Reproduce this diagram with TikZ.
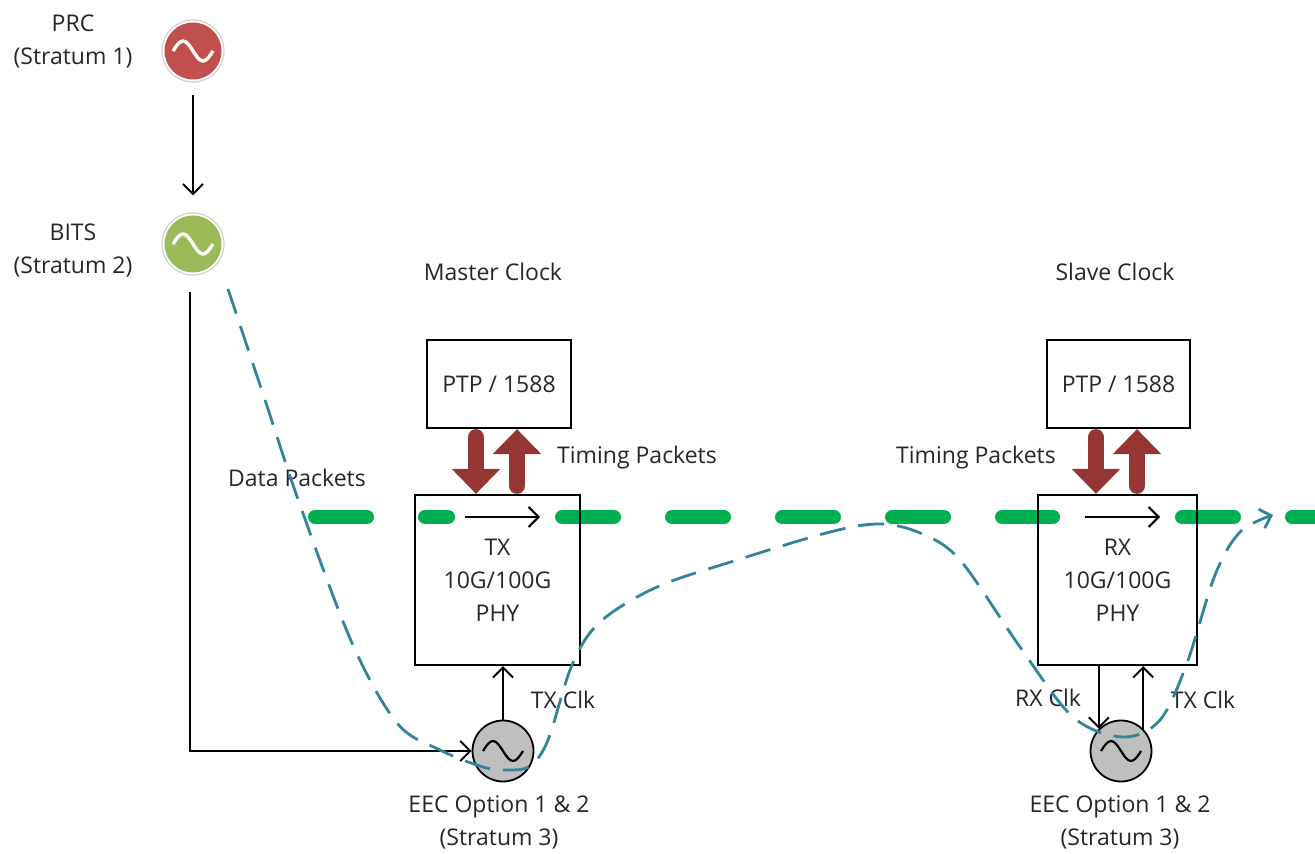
\documentclass[tikz,border=0pt]{standalone}
\usepackage{fontspec}
\setmainfont{Open Sans}
\usetikzlibrary{arrows.meta}
\usetikzlibrary{positioning}
\definecolor{prcred}{RGB}{192,80,77}
\definecolor{bitsgreen}{RGB}{155,187,89}
\definecolor{eecgray}{RGB}{191,191,191}
\definecolor{tpkbrown}{RGB}{150,54,52}
\definecolor{datagreen}{RGB}{0,176,80}
\definecolor{pathteal}{RGB}{49,133,155}
\tikzset{osc/.style = {circle, inner sep = 0, minimum size = 28.5pt}}
\tikzset{ring/.style = {circle, draw = black!18, line width = 0.6pt, inner sep = 0, minimum size = 31pt}}
\tikzset{eec/.style = {circle, draw, fill = eecgray, line width = 0.9pt, inner sep = 0, minimum size = 30.5pt}}
\tikzset{box/.style = {draw, line width = 1.1pt, inner sep = 0, align = center,
                       font = \fontsize{11.5}{16.5}\selectfont, text = black!85}}
\tikzset{lbl/.style = {align = center, font = \fontsize{11.5}{16.5}\selectfont, text = black!85}}
\tikzset{blk/.style = {line width = 1pt, -{Straight Barb[length = 5pt, width = 10pt]}}}
\tikzset{tpk/.style = {tpkbrown, line width = 8pt, line cap = round, shorten < = 4pt,
                       -{Triangle[width = 23.5pt, length = 12.5pt]}}}
\tikzset{datapkt/.style = {datagreen, line width = 7pt, line cap = round,
                           dash pattern = on 26pt off 29pt}}
\tikzset{wave/.pic = {\draw (-20, 0) sin (-10, -10) cos (0, 0) sin (10, 10) cos (20, 0);}}

\begin{document}
\begin{tikzpicture}[x = 0.5pt, y = -0.5pt]
  \useasboundingbox (0, 0) rectangle (1315, 854);

  % reference clocks
  \node [ring] (prcring) at (193, 51) {};
  \node [osc, fill = prcred] (prc) at (193, 51) {};
  \pic [white, line width = 1.7pt] at (prc.center) {wave};
  \node [lbl] (prclbl) at (73, 42) {PRC\\(Stratum 1)};

  \node [ring] (bitsring) at (193, 244) {};
  \node [osc, fill = bitsgreen] (bits) at (193, 244) {};
  \pic [white, line width = 1.7pt] at (bits.center) {wave};
  \node [lbl] (bitslbl) at (73, 250) {BITS\\(Stratum 2)};

  \draw [blk, shorten < = 6pt, shorten > = 8.5pt] (prcring) -- (bitsring);

  % data packets
  \draw [datapkt] (315, 517) -- (448, 517);
  \draw [datapkt] (562, 517) -- (1053, 517);
  \draw [datapkt] (1182, 517) -- (1330, 517);
  \node [lbl] (datalbl) at (297, 478) {Data Packets};

  % master clock
  \node [lbl] (mlbl) at (493, 272) {Master Clock};
  \node [box, minimum width = 72pt, minimum height = 44pt] (mptp) at (499, 384) {PTP / 1588};
  \node [box, minimum width = 82.5pt, minimum height = 85pt] (mphy) at (497.5, 580) {TX\\10G/100G\\PHY};
  \draw [tpk] ([xshift = -11.5pt]mptp.south) -- ([xshift = -11.5pt]mptp.south |- mphy.north);
  \draw [tpk] ([xshift = 9pt]mptp.south |- mphy.north) -- ([xshift = 9pt]mptp.south);
  \node [lbl] (mtpklbl) at (637, 458) {Timing Packets};
  \coordinate (mdin) at (465, 517);
  \coordinate (mdout) at (540, 517);
  \draw [blk] (mdin) -- (mdout);

  \node [eec] (meec) at (503, 751) {};
  \pic [black, line width = 1.1pt] at (meec.center) {wave};
  \node [lbl] (meeclbl) at (499, 822) {EEC Option 1 \& 2\\(Stratum 3)};
  \draw [blk] (meec.north) -- (meec.north |- mphy.south);
  \node [lbl] (mtxclk) at (563, 700) {TX Clk};

  \coordinate (bitsout) at (190, 292);
  \draw [blk] (bitsout) |- (meec.west);

  % slave clock
  \node [lbl] (slbl) at (1115, 272) {Slave Clock};
  \node [box, minimum width = 71.5pt, minimum height = 44pt] (sptp) at (1118.5, 384) {PTP / 1588};
  \node [box, minimum width = 79.5pt, minimum height = 85pt] (sphy) at (1117.5, 580) {RX\\10G/100G\\PHY};
  \draw [tpk] ([xshift = -11.25pt]sptp.south) -- ([xshift = -11.25pt]sptp.south |- sphy.north);
  \draw [tpk] ([xshift = 9.25pt]sptp.south |- sphy.north) -- ([xshift = 9.25pt]sptp.south);
  \node [lbl] (stpklbl) at (976, 458) {Timing Packets};
  \coordinate (sdin) at (1085, 517);
  \coordinate (sdout) at (1160, 517);
  \draw [blk] (sdin) -- (sdout);

  \node [eec] (seec) at (1121, 751) {};
  \pic [black, line width = 1.1pt] at (seec.center) {wave};
  \node [lbl] (seeclbl) at (1120, 822) {EEC Option 1 \& 2\\(Stratum 3)};
  \draw [blk] (seec.135 |- sphy.south) -- (seec.135);
  \draw [blk] (seec.45) -- (seec.45 |- sphy.south);
  \node [lbl] (srxclk) at (1048, 698) {RX Clk};
  \node [lbl] (stxclk) at (1203, 700) {TX Clk};

  % timing path
  \draw [pathteal, line width = 1.4pt, dash pattern = on 13pt off 6.5pt,
         -{Straight Barb[length = 5pt, width = 10pt]}]
    plot [smooth, tension = 0.55] coordinates {(228, 289) (265, 400) (300, 505) (352, 643)
      (397, 723) (440, 750) (483, 767) (507, 770) (530, 766) (548, 740) (572, 665)
      (600, 622) (657, 587) (737, 560) (830, 532) (880, 524) (920, 533) (960, 560)
      (1020, 647) (1073, 717) (1123, 737) (1160, 720) (1187, 663) (1215, 575)
      (1240, 532) (1273, 515)};
\end{tikzpicture}
\end{document}
